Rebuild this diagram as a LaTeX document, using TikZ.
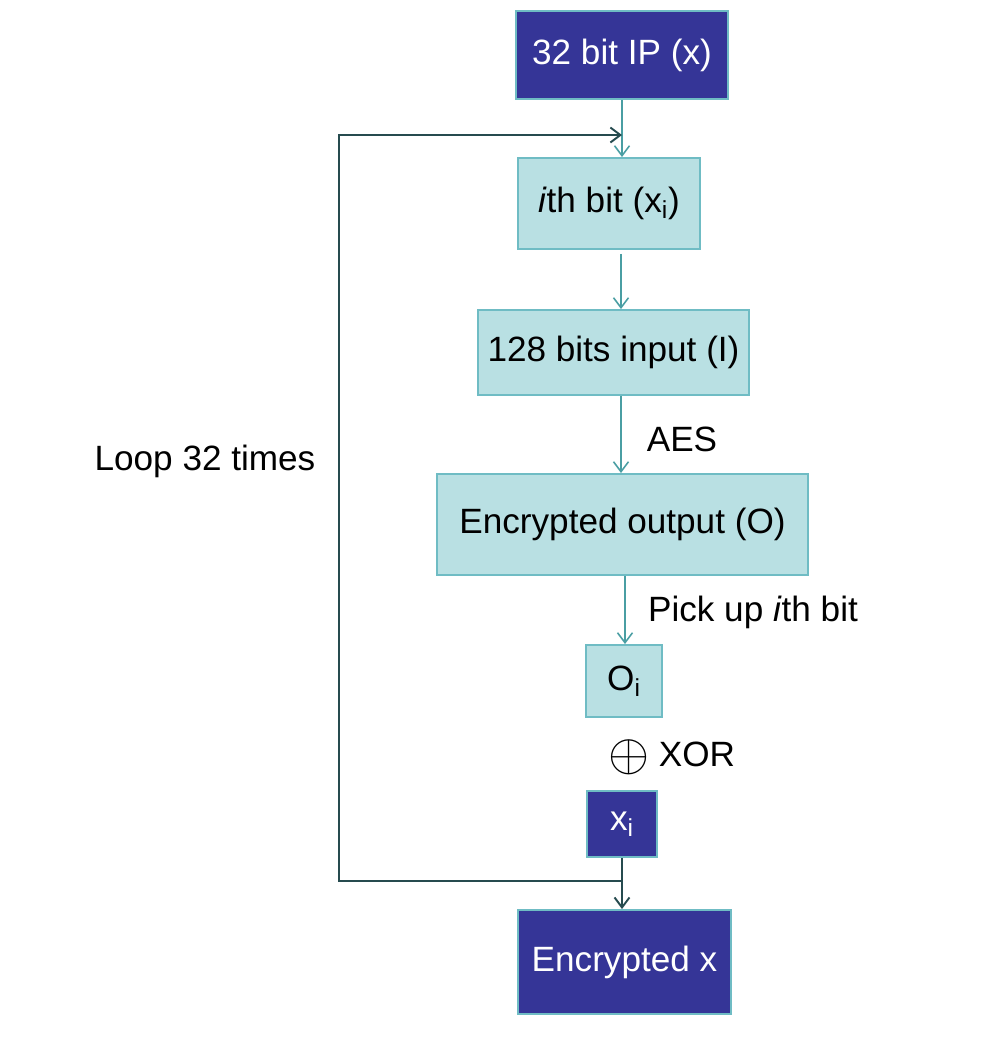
\documentclass[tikz,border=0pt]{standalone}
\usepackage{fontspec}
\setmainfont{Liberation Sans}
\usetikzlibrary{arrows.meta, positioning}
\definecolor{darkbox}{RGB}{53,53,151}
\definecolor{lightbox}{RGB}{185,224,227}
\definecolor{boxline}{RGB}{111,188,196}
\definecolor{tealline}{RGB}{74,158,163}
\definecolor{loopline}{RGB}{38,75,79}
\tikzset{%
  >={Straight Barb[length=2mm,width=3mm]},
  % Specifications for style of nodes:
  base/.style = {draw=boxline, line width=1.1pt, align=center, inner sep=0pt,
                 font=\fontsize{20}{24}\selectfont},
  outer/.style = {base, fill=darkbox, text=white},
  inner/.style = {base, fill=lightbox, text=black},
  lbl/.style = {align=left, font=\fontsize{20}{24}\selectfont},
  norm/.style = {->, draw=tealline, line width=0.9pt},
  back/.style = {->, draw=loopline, line width=1.1pt}
}
\begin{document}
\begin{tikzpicture}[x=0.02cm, y=-0.02cm]
  \useasboundingbox (0,0) rectangle (1004,1042);
  % Boxes of the flow, top to bottom
  \node (ip)   [outer, minimum width=4.24cm, minimum height=1.76cm] at (622,55)    {32 bit IP (x)};
  \node (ith)  [inner, minimum width=3.64cm, minimum height=1.82cm] at (609,203.5) {\textit{i}th bit (x\textsubscript{i})};
  \node (inp)  [inner, minimum width=5.42cm, minimum height=1.70cm] at (613.5,352.5) {128 bits input (I)};
  \node (enc)  [inner, minimum width=7.42cm, minimum height=2.02cm] at (622.5,524.5) {Encrypted output (O)};
  \node (oi)   [inner, minimum width=1.52cm, minimum height=1.44cm] at (624,681)   {O\textsubscript{i}};
  \node (xor)  [lbl] at (672,757) {\raisebox{-0.2ex}{\scalebox{1.45}{$\oplus$}}\hspace{0.25em}XOR};
  \node (xi)   [outer, minimum width=1.40cm, minimum height=1.32cm] at (622,824)   {x\textsubscript{i}};
  \node (encx) [outer, minimum width=4.26cm, minimum height=2.08cm] at (624.5,962) {Encrypted x};

  % Labels beside the arrows
  \node (aes)  [lbl] at (682,439) {AES};
  \node (pick) [lbl] at (753,612) {Pick up \textit{i}th bit};
  \node (loop) [lbl] at (205,461) {Loop 32 times};

  % Corners of the loop
  \coordinate (c1) at (339,881);
  \coordinate (c2) at (339,135);
  \coordinate (a1) at (621,0);
  \coordinate (a2) at (625,0);

  \draw [norm] (ip.south) -- (ip.south |- ith.north);
  \draw [norm] (a1 |- ith.south) ++(0,4) -- (a1 |- inp.north);
  \draw [norm] (a1 |- inp.south) -- (a1 |- enc.north);
  \draw [norm] (a2 |- enc.south) -- (a2 |- oi.north);

  \draw [back] (xi.south) -- (xi.south |- encx.north);
  \draw [back] (xi.south |- c1) -- (c1) -- (c2) -- (ip.south |- c2);
\end{tikzpicture}
\end{document}
